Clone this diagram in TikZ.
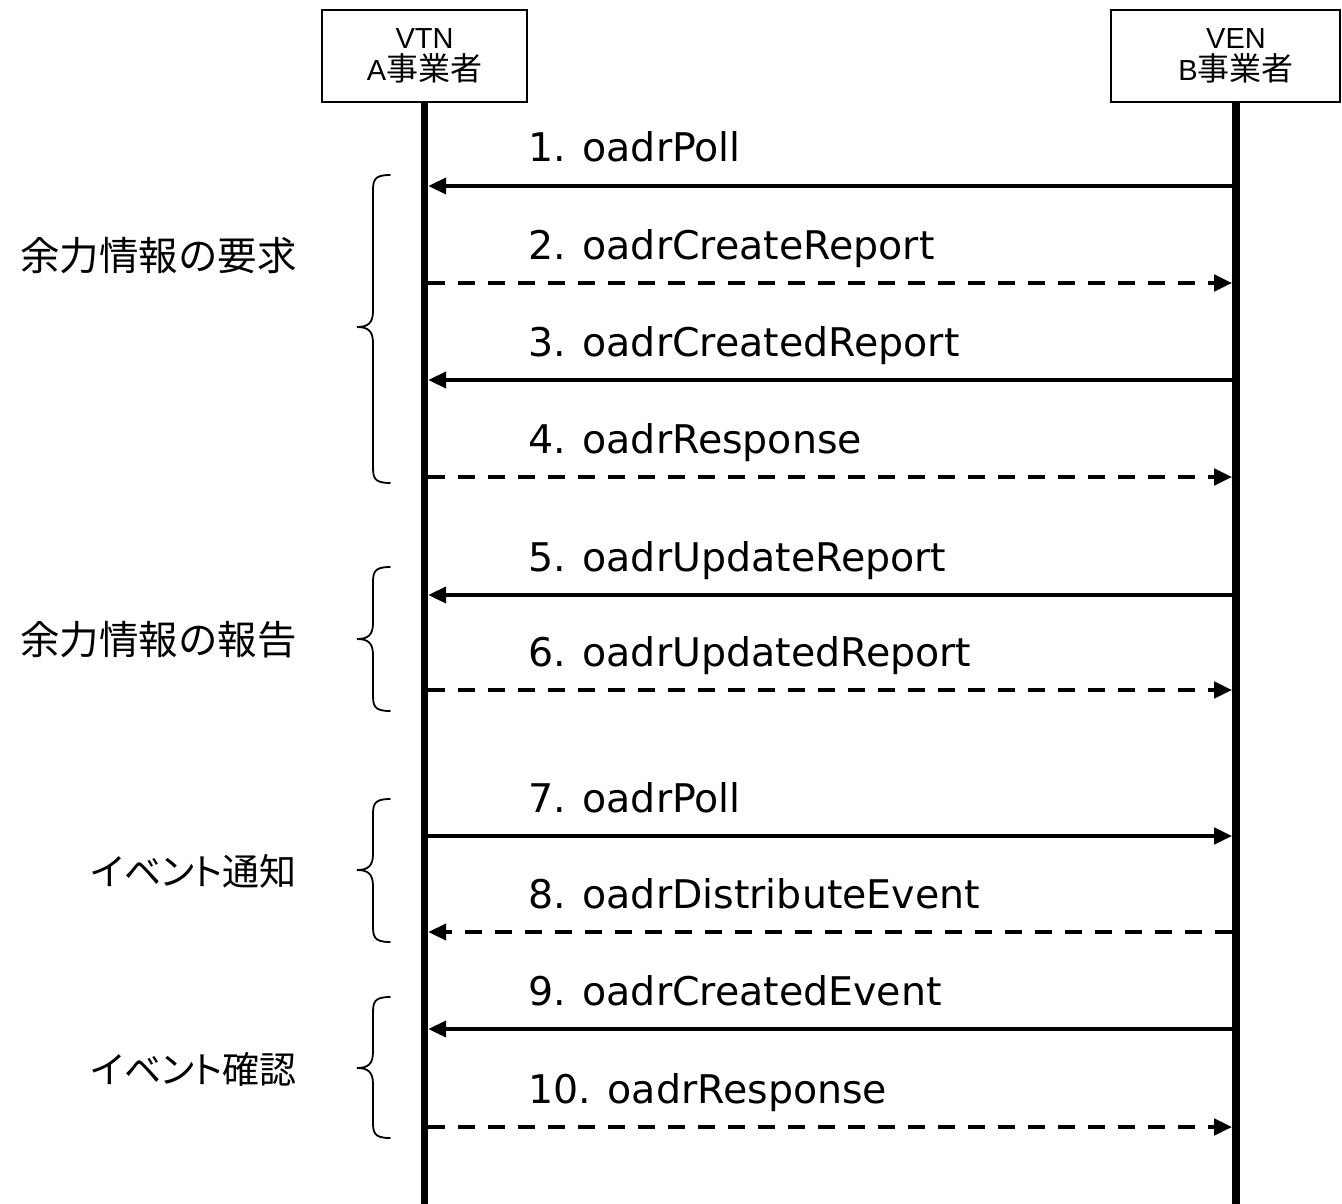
\documentclass[tikz,border=0pt]{standalone}
\usepackage{fontspec}
\setmainfont{DejaVu Sans}
\newfontfamily\boxfont{Liberation Sans}
\newfontfamily\jpfont{Noto Sans CJK JP}
\newfontfamily\jpkana[RawFeature=+palt]{Noto Sans CJK JP}
\usetikzlibrary{arrows.meta}

\begin{document}
\begin{tikzpicture}[x=1pt,y=-1pt,
  actorbox/.style={draw, line width=1.6pt, minimum height=92pt, inner sep=0pt},
  actortext/.style={align=center, inner sep=0pt,
    font=\fontsize{29}{32}\selectfont\boxfont},
  jpbox/.style={},
  lifeline/.style={line width=7.5pt},
  msgsolid/.style={line width=4.3pt, -{Triangle[length=18pt,width=16pt]}},
  msgdashed/.style={msgsolid, dash pattern=on 17pt off 13pt},
  msglabel/.style={anchor=base west, inner sep=0pt,
    font=\fontsize{39.5}{44}\selectfont},
  grouplabel/.style={anchor=base east, inner sep=0pt,
    font=\fontsize{39.5}{44}\selectfont\jpfont},
  kanalabel/.style={grouplabel, font=\fontsize{37}{42}\selectfont\jpkana},
  bracket/.style={line width=1.8pt, line cap=round}
]
\useasboundingbox (0,0) rectangle (1342,1204);

% participants
\node[actorbox, minimum width=205pt] (vtn) at (424.5,56) {};
\node[actortext] (vtntext) at (424.5,56) {VTN\\A{\jpfont\fontsize{32}{32}\selectfont 事業者}};
\node[actorbox, minimum width=229pt] (ven) at (1225.5,56) {};
\node[actortext] (ventext) at (1236,56) {VEN\\B{\jpfont\fontsize{32}{32}\selectfont 事業者}};

% lifelines
\coordinate (vtntop) at (424.5,102);
\coordinate (vtnend) at (424.5,1204);
\coordinate (ventop) at (1236,102);
\coordinate (venend) at (1236,1204);
\draw[lifeline] (vtntop) -- (vtnend);
\draw[lifeline] (ventop) -- (venend);

% message end points on both lifelines
\foreach \i/\y in {1/186,2/283,3/380,4/477,5/595,6/690,7/836,8/932,9/1029,10/1127}{
  \coordinate (a\i) at (428.2,\y);
  \coordinate (b\i) at (1232.2,\y);
}

% messages
\draw[msgsolid]  (b1) -- (a1);
\draw[msgdashed] (a2) -- (b2);
\draw[msgsolid]  (b3) -- (a3);
\draw[msgdashed] (a4) -- (b4);
\draw[msgsolid]  (b5) -- (a5);
\draw[msgdashed] (a6) -- (b6);
\draw[msgsolid]  (a7) -- (b7);
\draw[msgdashed] (b8) -- (a8);
\draw[msgsolid]  (b9) -- (a9);
\draw[msgdashed] (a10) -- (b10);

% message labels
\node[msglabel] (l1)  at (528,162)  {1. oadrPoll};
\node[msglabel] (l2)  at (528,259)  {2. oadrCreateReport};
\node[msglabel] (l3)  at (528,356)  {3. oadrCreatedReport};
\node[msglabel] (l4)  at (528,453)  {4. oadrResponse};
\node[msglabel] (l5)  at (528,571)  {5. oadrUpdateReport};
\node[msglabel] (l6)  at (528,666)  {6. oadrUpdatedReport};
\node[msglabel] (l7)  at (528,812)  {7. oadrPoll};
\node[msglabel] (l8)  at (528,908)  {8. oadrDistributeEvent};
\node[msglabel] (l9)  at (528,1005) {9. oadrCreatedEvent};
\node[msglabel] (l10) at (528,1103) {10. oadrResponse};

% curly brackets grouping the messages
\foreach \t/\m/\b in {175/327/483, 567/639/711, 799/870/942, 997/1068/1138}{
  \draw[bracket] (390,\t) .. controls (373,\t) and (373,\t+6) .. (373,\t+18)
    -- (373,\m-16) .. controls (373,\m-4) and (368,\m) .. (357,\m)
    .. controls (368,\m) and (373,\m+4) .. (373,\m+16)
    -- (373,\b-18) .. controls (373,\b-6) and (373,\b) .. (390,\b);
}

% group labels
\node[grouplabel] (g1) at (297,270)  {余力情報の要求};
\node[grouplabel] (g2) at (297,654)  {余力情報の報告};
\node[kanalabel]  (g3) at (297,885)  {イベント通知};
\node[kanalabel]  (g4) at (297,1083) {イベント確認};
\end{tikzpicture}
\end{document}
